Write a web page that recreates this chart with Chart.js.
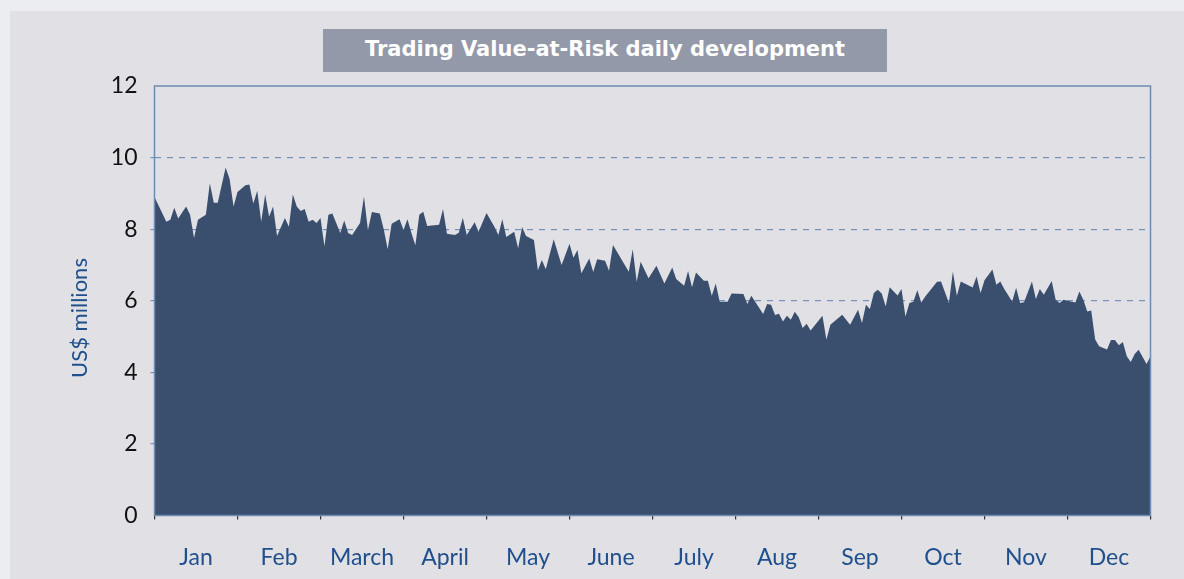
<!DOCTYPE html>
<html>
<head>
<meta charset="utf-8">
<title>Trading Value-at-Risk daily development</title>
<script src="https://cdn.jsdelivr.net/npm/chart.js@4/dist/chart.umd.min.js"></script>
<style>
    body { margin: 0; background: #ecedf1; font-family: Lato, "DejaVu Sans", sans-serif; }
    #panel { position: absolute; left: 10px; top: 11px; width: 1174px; height: 568px; background: #e1e0e5; }
    #title {
        position: absolute; left: 323px; top: 29px; width: 564px; height: 43px;
        background: #9399a8; color: #fff; font-family: "DejaVu Sans", sans-serif; font-weight: bold; font-size: 21px;
        line-height: 41px; text-align: center;
    }
    canvas { position: absolute; left: 0; top: 0; }
</style>
</head>
<body>
<div id="panel"></div>
<canvas id="varChart" width="1184" height="579"></canvas>
<div id="title">Trading Value-at-Risk daily development</div>
<script>
// trading day index (21 per month) and daily VaR in US$ millions
const days = [
    0, 3, 4, 5, 6, 8, 9, 10, 11, 13, 14, 15, 16, 18, 19, 20, 21, 23, 24, 25,
    26, 27, 28, 29, 30, 31, 33, 34, 35, 36, 37, 38, 39, 40, 41, 42, 43, 44, 45, 47,
    48, 49, 50, 52, 53, 54, 55, 57, 58, 59, 60, 62, 63, 64, 65, 66, 67, 68, 69, 72,
    73, 74, 76, 77, 78, 79, 81, 82, 84, 86, 87, 88, 89, 91, 92, 93, 94, 96, 97, 98,
    99, 101, 103, 105, 106, 107, 108, 110, 111, 112, 114, 115, 116, 120, 121, 122, 123, 125, 127, 129,
    131, 132, 134, 135, 136, 137, 139, 140, 141, 142, 143, 145, 146, 149, 150, 151, 154, 155, 156, 157,
    158, 159, 160, 161, 162, 163, 164, 165, 166, 169, 170, 171, 174, 176, 178, 179, 180, 181, 182, 183,
    184, 185, 186, 188, 189, 190, 191, 192, 193, 194, 195, 198, 199, 201, 202, 203, 204, 207, 208, 209,
    210, 212, 213, 214, 215, 217, 218, 219, 220, 222, 223, 224, 225, 227, 228, 229, 230, 231, 233, 234,
    235, 236, 237, 238, 239, 241, 242, 243, 244, 245, 246, 247, 248, 249, 251, 252
];
const varValues = [
    8.9, 8.21, 8.26, 8.6, 8.3, 8.63, 8.4, 7.75, 8.26, 8.4, 9.28, 8.74, 8.74, 9.72, 9.4, 8.63, 9.04, 9.23, 9.25, 8.72,
    9.07, 8.21, 8.97, 8.35, 8.63, 7.81, 8.31, 8.07, 8.97, 8.63, 8.51, 8.56, 8.21, 8.26, 8.17, 8.31, 7.52, 8.4, 8.44, 7.89,
    8.24, 7.89, 7.84, 8.17, 8.91, 7.98, 8.48, 8.44, 8.0, 7.44, 8.15, 8.28, 7.98, 8.28, 7.89, 7.55, 8.4, 8.49, 8.09, 8.12,
    8.56, 7.87, 7.84, 7.9, 8.32, 7.84, 8.19, 7.93, 8.45, 8.07, 7.84, 8.28, 7.78, 7.93, 7.47, 8.06, 7.81, 7.7, 6.85, 7.14,
    6.88, 7.72, 7.0, 7.59, 7.2, 7.42, 6.77, 7.18, 6.8, 7.16, 7.12, 6.84, 7.56, 6.81, 7.44, 6.53, 7.09, 6.63, 6.98, 6.48,
    6.93, 6.61, 6.42, 6.83, 6.38, 6.79, 6.56, 6.56, 6.14, 6.48, 5.97, 5.97, 6.2, 6.19, 5.91, 6.14, 5.63, 5.91, 5.89, 5.6,
    5.64, 5.42, 5.58, 5.47, 5.69, 5.54, 5.24, 5.36, 5.17, 5.58, 4.91, 5.33, 5.61, 5.33, 5.75, 5.38, 5.89, 5.77, 6.22, 6.31,
    6.2, 5.84, 6.38, 6.15, 6.33, 5.56, 5.94, 5.97, 6.29, 5.95, 6.12, 6.53, 6.54, 5.94, 6.82, 6.14, 6.54, 6.37, 6.68, 6.22,
    6.57, 6.87, 6.45, 6.54, 6.33, 5.98, 6.36, 5.94, 5.96, 6.54, 6.05, 6.33, 6.17, 6.55, 6.03, 5.94, 6.03, 6.0, 5.95, 6.26,
    6.03, 5.7, 5.73, 4.92, 4.73, 4.64, 4.9, 4.9, 4.76, 4.85, 4.45, 4.29, 4.51, 4.63, 4.23, 4.45
];
const months = ["Jan", "Feb", "March", "April", "May", "June", "July", "Aug", "Sep", "Oct", "Nov", "Dec"];
const daysPerMonth = 21;
const yTicks = [0, 2, 4, 6, 8, 10, 12];

Chart.defaults.font.family = 'Lato, "DejaVu Sans", sans-serif';

const framePlugin = {
    id: 'frame',
    afterDraw(chart) {
        const { ctx, chartArea: a } = chart;
        ctx.save();
        ctx.strokeStyle = '#6d8cb4';
        ctx.lineWidth = 1.5;
        ctx.strokeRect(a.left, a.top, a.right - a.left, a.bottom - a.top);
        // y axis title
        ctx.translate(80, 318);
        ctx.rotate(-Math.PI / 2);
        ctx.fillStyle = '#1f4f8c';
        ctx.font = '22px Lato, "DejaVu Sans", sans-serif';
        ctx.textAlign = 'center';
        ctx.textBaseline = 'middle';
        ctx.fillText('US$ millions', 0, 0);
        ctx.restore();
    }
};

new Chart(
    document.getElementById("varChart"),
    {
        type: 'line',
        data: {
            datasets: [{
                label: 'Trading VaR',
                data: days.map((d, i) => ({ x: d, y: varValues[i] })),
                backgroundColor: '#3a4f6e',
                borderWidth: 0,
                pointRadius: 0,
                tension: 0,
                fill: 'origin'
            }]
        },
        options: {
            responsive: false,
            animation: false,
            layout: { padding: { top: 86, right: 33.5, left: 0, bottom: 0 } },
            plugins: { legend: { display: false }, tooltip: { enabled: false } },
            scales: {
                x: {
                    type: 'linear',
                    min: 0,
                    max: months.length * daysPerMonth,
                    afterBuildTicks(scale) {
                        const t = [];
                        for (let i = 0; i <= months.length * 2; i++) t.push({ value: i * daysPerMonth / 2 });
                        scale.ticks = t;
                    },
                    afterFit(scale) { scale.height = 63.5; },
                    ticks: {
                        autoSkip: false,
                        maxRotation: 0,
                        padding: 24,
                        color: '#1f4f8c',
                        font: { size: 23 },
                        callback: (v) => (v % daysPerMonth === daysPerMonth / 2) ? months[Math.floor(v / daysPerMonth)] : ''
                    },
                    grid: {
                        drawOnChartArea: false,
                        drawTicks: true,
                        tickLength: 4,
                        lineWidth: 1.2,
                        color: (ctx) => (ctx.tick && ctx.tick.value % daysPerMonth === 0) ? '#333' : 'rgba(0,0,0,0)'
                    },
                    border: { display: false }
                },
                y: {
                    min: 0,
                    max: 12,
                    afterBuildTicks(scale) { scale.ticks = yTicks.map(v => ({ value: v })); },
                    afterFit(scale) { scale.width = 154.5; },
                    ticks: {
                        padding: 13,
                        color: '#111',
                        font: { size: 23 }
                    },
                    grid: {
                        tickLength: 4,
                        lineWidth: 1.2,
                        color: (ctx) => (ctx.tick && ctx.tick.value > 0 && ctx.tick.value < 12) ? '#7391b8' : 'rgba(0,0,0,0)'
                    },
                    border: { display: false, dash: [6, 6] }
                }
            }
        },
        plugins: [framePlugin]
    }
);
</script>
</body>
</html>
